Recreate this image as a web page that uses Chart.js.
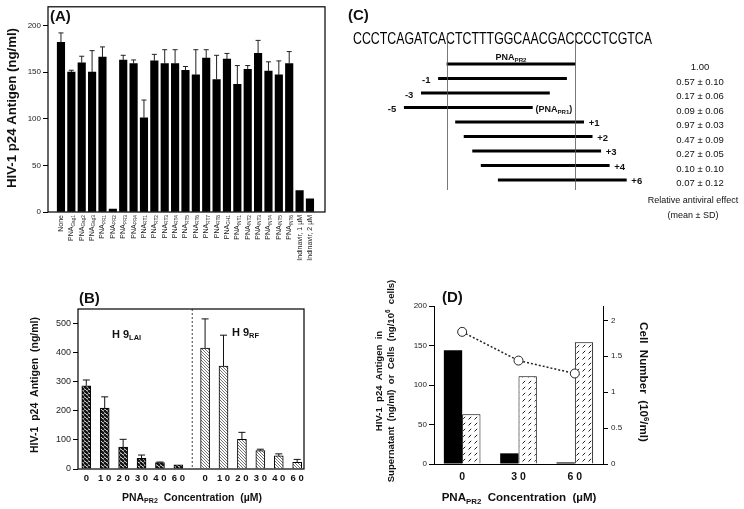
<!DOCTYPE html>
<html><head><meta charset="utf-8">
<script src="https://cdn.jsdelivr.net/npm/chart.js@4"></script>
<style>
html,body{margin:0;padding:0;background:#fff;width:744px;height:509px;overflow:hidden;}
canvas{position:absolute;}
</style></head><body>
<canvas id="cA" width="330" height="265" style="left:0;top:0"></canvas>
<canvas id="cB" width="330" height="239" style="left:0;top:270px"></canvas>
<canvas id="cC" width="414" height="230" style="left:330px;top:0"></canvas>
<canvas id="cD" width="384" height="239" style="left:360px;top:270px"></canvas>
<script>
// ---------- DATA ----------
// Panel A
const aCategories = ['None','PNA_{Gag1}','PNA_{Gag2}','PNA_{Gag3}','PNA_{PR1}','PNA_{PR2}','PNA_{PR3}','PNA_{PR4}',
  'PNA_{RT1}','PNA_{RT2}','PNA_{RT3}','PNA_{RT4}','PNA_{RT5}','PNA_{RT6}','PNA_{RT7}','PNA_{RT8}','PNA_{GH1}',
  'PNA_{INT1}','PNA_{INT2}','PNA_{INT3}','PNA_{INT4}','PNA_{INT5}','PNA_{INT6}','Indinavir, 1 µM','Indinavir, 2 µM'];
const aValues = [182,150,160,150,166,3,163,159,101,162,159,159,152,147,165,142,164,137,153,170,151,147,159,23,14];
const aErrors = [10,2,7,23,11,0,5,4,19,7,15,15,4,27,9,26,6,20,4,14,10,15,13,0,0];
const aTicks = [0,50,100,150,200];
// Panel B
const bConc = ['0','10','20','30','40','60'];
const bLAI = [286,209,75,37,22,14];
const bLAIErr = [20,39,27,11,2,0];
const bRF = [416,354,102,63,45,23];
const bRFErr = [100,106,24,5,7,10];
// Panel C
const cSequence = 'CCCTCAGATCACTCTTTGGCAACGACCCCTCGTCA';
const cProbeStart = 11;
const cProbeLen = 15;
const cOffsets = [0,-1,-3,-5,1,2,3,4,6];
const cNotes = ['PNA_{PR2}','','','(PNA_{PR1})','','','','',''];
const cEffects = ['1.00','0.57 ± 0.10','0.17 ± 0.06','0.09 ± 0.06','0.97 ± 0.03','0.47 ± 0.09','0.27 ± 0.05','0.10 ± 0.10','0.07 ± 0.12'];
// Panel D
const dConc = ['0','30','60'];
const dSupernatant = [144,13.5,2];
const dCells = [63,111,154];
const dCellNumber = [1.84,1.44,1.26];

// ---------- HELPERS ----------
const FAM = "'Liberation Sans', Arial, Helvetica, sans-serif";
Chart.defaults.font.family = FAM;
Chart.defaults.color = '#222';
Chart.defaults.animation = false;

function parseRich(s){
  const segs=[]; const re=/([_^])\{([^}]*)\}/g; let last=0,m;
  while((m=re.exec(s))){ if(m.index>last) segs.push({t:s.slice(last,m.index),k:0});
    segs.push({t:m[2],k:m[1]==='_'?1:2}); last=re.lastIndex; }
  if(last<s.length) segs.push({t:s.slice(last),k:0});
  return segs;
}
function drawRich(ctx,s,x,y,o){
  o=o||{}; const segs=parseRich(s); const w=o.bold?'bold ':'';
  let size=o.size||10;
  const measure=sz=>segs.reduce((a,g)=>{ctx.font=w+(g.k?sz*0.68:sz)+'px '+FAM; return a+ctx.measureText(g.t).width;},0);
  if(o.fit){ size=size*o.fit/measure(size); }
  let total=measure(size), sx=1;
  if(o.stretch){ sx=o.stretch/total; }
  ctx.save(); ctx.translate(x,y); if(o.rot) ctx.rotate(o.rot); if(sx!==1) ctx.scale(sx,1);
  ctx.fillStyle=o.color||'#111'; ctx.textBaseline='middle'; ctx.textAlign='left';
  let cx=o.align==='center'?-total/2:(o.align==='right'?-total:0);
  for(const g of segs){ const sz=g.k?size*0.68:size; ctx.font=w+sz+'px '+FAM;
    const dy=g.k===1?size*0.3:(g.k===2?-size*0.3:0);
    ctx.fillText(g.t,cx,dy); cx+=ctx.measureText(g.t).width; }
  ctx.restore(); return size;
}
function errBar(ctx,x,yTop,yBase,cap){
  ctx.beginPath(); ctx.moveTo(x,yBase); ctx.lineTo(x,yTop);
  ctx.moveTo(x-cap/2,yTop); ctx.lineTo(x+cap/2,yTop); ctx.stroke();
}
function box(ctx,a){ ctx.save(); ctx.strokeStyle='#000'; ctx.lineWidth=1.2;
  ctx.strokeRect(a.left,a.top,a.right-a.left,a.bottom-a.top); ctx.restore(); }
function makePattern(size,draw){ const c=document.createElement('canvas'); c.width=c.height=size;
  const x=c.getContext('2d'); draw(x,size); return x.createPattern(c,'repeat'); }
const patLAI = makePattern(4,(x,s)=>{x.fillStyle='#fff';x.fillRect(0,0,s,s);x.strokeStyle='#111';x.lineWidth=2.3;
  x.beginPath(); for(let k=-s;k<=2*s;k+=s){x.moveTo(k,0);x.lineTo(k+s,s);} x.stroke();});
const patRF = makePattern(3,(x,s)=>{x.fillStyle='#fff';x.fillRect(0,0,s,s);x.strokeStyle='#666';x.lineWidth=0.9;
  x.beginPath(); for(let k=-s;k<=2*s;k+=s){x.moveTo(k,0);x.lineTo(k+s,s);} x.stroke();});
const patD = makePattern(6,(x,s)=>{x.fillStyle='#fff';x.fillRect(0,0,s,s);x.strokeStyle='#222';x.lineWidth=1;
  x.beginPath(); x.moveTo(0.5,5.5); x.lineTo(3.2,2.8); x.stroke();});
const spaced = t => t.split('').join(' ');
const noUI = {legend:{display:false},tooltip:{enabled:false}};

// ---------- PANEL A ----------
new Chart(document.getElementById('cA'),{
  type:'bar',
  data:{datasets:[{data:aValues.map((v,i)=>({x:i,y:v})),backgroundColor:'#000',borderWidth:0,barThickness:7.5}]},
  options:{responsive:false,devicePixelRatio:1,animation:false,plugins:noUI,
    layout:{padding:{left:0,right:5,top:5,bottom:0}},
    scales:{
      x:{type:'linear',offset:false,min:-1.25,max:aCategories.length+0.45,ticks:{display:false},grid:{display:false},border:{display:false},afterFit:s=>{s.height=53;}},
      y:{min:0,max:220,afterBuildTicks:s=>{s.ticks=aTicks.map(v=>({value:v}));},
         ticks:{font:{size:8},padding:2,color:'#222'},
         grid:{drawOnChartArea:false,drawTicks:true,tickLength:5,color:'#000'},border:{display:false},afterFit:s=>{s.width=48;}}
    }},
  plugins:[{id:'pa',afterDatasetsDraw(ch){
    const ctx=ch.ctx,xs=ch.scales.x,ys=ch.scales.y,a=ch.chartArea;
    ctx.save(); ctx.strokeStyle='#222'; ctx.lineWidth=1;
    aValues.forEach((v,i)=>{ if(aErrors[i]>0) errBar(ctx,xs.getPixelForValue(i),ys.getPixelForValue(v+aErrors[i]),ys.getPixelForValue(v),5);});
    ctx.restore();
    box(ctx,a);
    aCategories.forEach((c,i)=>drawRich(ctx,c,xs.getPixelForValue(i),a.bottom+3,{size:7,align:'right',rot:-Math.PI/2,color:'#222'}));
    drawRich(ctx,'HIV-1 p24 Antigen (ng/ml)',12.5,108,{bold:true,fit:160,rot:-Math.PI/2,align:'center'});
    drawRich(ctx,'(A)',a.left+2,17,{bold:true,size:15});
  }}]
});

// ---------- PANEL B ----------
const B_GAP = 6.45;
const bPos = [...bConc.map((c,i)=>i),...bConc.map((c,i)=>i+B_GAP)];
const bVals = [...bLAI,...bRF];
const bErrs = [...bLAIErr,...bRFErr];
new Chart(document.getElementById('cB'),{
  type:'bar',
  data:{datasets:[{data:bVals.map((v,k)=>({x:bPos[k],y:v})),
    backgroundColor:[...bLAI.map(()=>patLAI),...bRF.map(()=>patRF)],borderColor:'#000',borderWidth:1,barThickness:9}]},
  options:{responsive:false,devicePixelRatio:1,animation:false,plugins:noUI,
    layout:{padding:{left:0,right:26,top:39,bottom:0}},
    scales:{
      x:{type:'linear',offset:false,min:-0.45,max:B_GAP+5+0.37,afterBuildTicks:s=>{s.ticks=bPos.map(v=>({value:v}));},
         ticks:{autoSkip:false,maxRotation:0,padding:4,font:{size:9.5,weight:'bold'},color:'#111',
           callback:(v,i)=>spaced(bConc[i%bConc.length])},
         grid:{display:false,drawTicks:false},border:{display:false},afterFit:s=>{s.height=40;}},
      y:{min:0,max:550,ticks:{stepSize:100,includeBounds:false,font:{size:9},padding:2,color:'#222'},
         grid:{drawOnChartArea:false,drawTicks:true,tickLength:5,color:'#000'},border:{display:false},afterFit:s=>{s.width=78;}}
    }},
  plugins:[{id:'pb',afterDatasetsDraw(ch){
    const ctx=ch.ctx,xs=ch.scales.x,ys=ch.scales.y,a=ch.chartArea;
    ctx.save(); ctx.strokeStyle='#111'; ctx.lineWidth=1;
    bVals.forEach((v,k)=>{ if(bErrs[k]>0) errBar(ctx,xs.getPixelForValue(bPos[k]),ys.getPixelForValue(v+bErrs[k]),ys.getPixelForValue(v),7);});
    const dx=xs.getPixelForValue((bConc.length-1+B_GAP)/2)+0.5;
    ctx.setLineDash([2,2]); ctx.lineWidth=0.8; ctx.beginPath(); ctx.moveTo(dx,a.top); ctx.lineTo(dx,a.bottom); ctx.stroke();
    ctx.restore();
    box(ctx,a);
    drawRich(ctx,'HIV-1  p24  Antigen  (ng/ml)',35,115,{bold:true,fit:136,rot:-Math.PI/2,align:'center'});
    drawRich(ctx,'PNA_{PR2}  Concentration  (µM)',192,228,{bold:true,fit:140,align:'center'});
    drawRich(ctx,'(B)',79,29,{bold:true,size:15});
    drawRich(ctx,'H 9_{LAI}',112,65,{bold:true,size:11});
    drawRich(ctx,'H 9_{RF}',232,63,{bold:true,size:11});
  }}]
});

// ---------- PANEL C ----------
new Chart(document.getElementById('cC'),{
  type:'bar',
  data:{labels:cOffsets.map(String),datasets:[{data:cOffsets.map(o=>[cProbeStart+o,cProbeStart+o+cProbeLen]),
    backgroundColor:'#000',borderWidth:0,barThickness:2.2}]},
  options:{indexAxis:'y',responsive:false,devicePixelRatio:1,animation:false,plugins:noUI,
    layout:{padding:{left:23,right:92,top:56.75,bottom:42.75}},
    scales:{x:{type:'linear',offset:false,min:0,max:cSequence.length,display:false},y:{display:false}}},
  plugins:[{id:'pc',afterDatasetsDraw(ch){
    const ctx=ch.ctx,xs=ch.scales.x,ys=ch.scales.y;
    drawRich(ctx,'(C)',18,16,{bold:true,size:15});
    const sx0=xs.getPixelForValue(0),sx1=xs.getPixelForValue(cSequence.length);
    drawRich(ctx,cSequence,sx0,39.5,{size:16,stretch:sx1-sx0,color:'#000'});
    ctx.save(); ctx.strokeStyle='#555'; ctx.lineWidth=0.8; ctx.beginPath();
    [cProbeStart,cProbeStart+cProbeLen].forEach(v=>{const x=Math.round(xs.getPixelForValue(v))+0.5; ctx.moveTo(x,33); ctx.lineTo(x,190);});
    ctx.stroke(); ctx.restore();
    cOffsets.forEach((o,i)=>{
      const y=ys.getPixelForValue(i), x0=xs.getPixelForValue(cProbeStart+o), x1=xs.getPixelForValue(cProbeStart+o+cProbeLen);
      if(o===0) drawRich(ctx,cNotes[i],(x0+x1)/2,y-6.5,{bold:true,size:9,align:'center'});
      else if(o<0){ drawRich(ctx,String(o),x0-8,y+2,{bold:true,size:9.5,align:'right'});
        if(cNotes[i]) drawRich(ctx,cNotes[i],x1+3,y+2,{bold:true,size:9}); }
      else drawRich(ctx,'+'+o,x1+5,y+1.5,{bold:true,size:9.5});
      drawRich(ctx,cEffects[i],370,y+3.5,{size:9.5,align:'center'});
    });
    drawRich(ctx,'Relative antiviral effect',363,201,{size:9,align:'center'});
    drawRich(ctx,'(mean ± SD)',363,216,{size:9,align:'center'});
  }}]
});

// ---------- PANEL D ----------
new Chart(document.getElementById('cD'),{
  data:{labels:dConc.map(spaced),datasets:[
    {type:'line',data:dCellNumber,yAxisID:'y1',borderColor:'#222',borderWidth:1.5,borderDash:[2,2],
      pointRadius:4.5,pointBackgroundColor:'#fff',pointBorderColor:'#222',pointBorderWidth:1,order:0},
    {type:'bar',data:dSupernatant,yAxisID:'y',backgroundColor:'#000',borderWidth:0,categoryPercentage:0.65,barPercentage:1,order:1},
    {type:'bar',data:dCells,yAxisID:'y',backgroundColor:patD,borderColor:'#000',borderWidth:1,categoryPercentage:0.65,barPercentage:1,order:1}]},
  options:{responsive:false,devicePixelRatio:1,animation:false,plugins:noUI,
    layout:{padding:{left:0,right:0,top:36,bottom:0}},
    scales:{
      x:{ticks:{font:{size:10.5,weight:'bold'},padding:7,color:'#111'},grid:{display:false,drawTicks:false},border:{display:true,color:'#000'},afterFit:s=>{s.height=45;}},
      y:{position:'left',min:0,max:200,ticks:{stepSize:50,font:{size:8},padding:2,color:'#222'},
         grid:{drawOnChartArea:false,tickLength:5,color:'#000'},border:{color:'#000'},afterFit:s=>{s.width=74;}},
      y1:{position:'right',min:0,max:2.2,ticks:{stepSize:0.5,includeBounds:false,font:{size:8},padding:3,color:'#222',callback:v=>String(v)},
         grid:{drawOnChartArea:false,tickLength:5,color:'#000'},border:{color:'#000'},afterFit:s=>{s.width=141;}}
    }},
  plugins:[{id:'pd',afterDraw(ch){
    const ctx=ch.ctx;
    const sz=drawRich(ctx,'Supernatant  (ng/ml)  or  Cells  (ng/10^{6}  cells)',31,111,{bold:true,fit:203,rot:-Math.PI/2,align:'center'});
    drawRich(ctx,'HIV-1  p24  Antigen  in',19,111,{bold:true,size:sz,rot:-Math.PI/2,align:'center'});
    drawRich(ctx,'Cell  Number  (10^{6}/ml)',283,112,{bold:true,fit:120,rot:Math.PI/2,align:'center'});
    drawRich(ctx,'PNA_{PR2}  Concentration  (µM)',159,228,{bold:true,fit:155,align:'center'});
    drawRich(ctx,'(D)',82,27.5,{bold:true,size:15});
  }}]
});
</script>
</body></html>
